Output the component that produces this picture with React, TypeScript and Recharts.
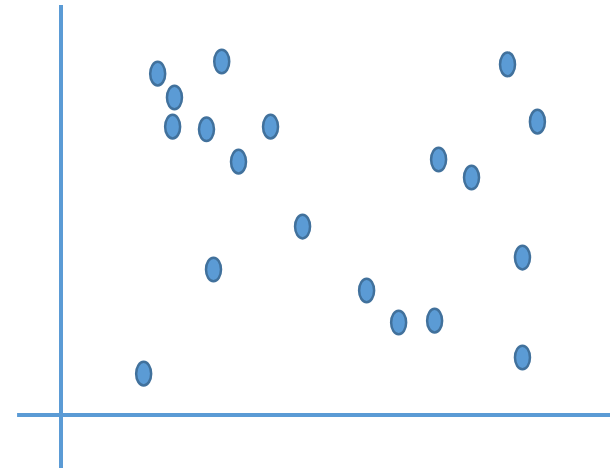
import React from 'react';
import { ScatterChart, Scatter, XAxis, YAxis, ReferenceLine } from 'recharts';

// values (axes cross at 0,0)
const xValues = [3.17, 5.27, 3.72, 3.66, 4.77, 6.87, 5.82, 7.92, 5.0, 2.71, 10.02, 11.07, 12.25, 12.38, 13.46, 14.64, 15.62, 15.13, 15.13];
const yValues = [12.88, 13.34, 11.98, 10.88, 10.78, 10.88, 9.56, 7.11, 5.49, 1.56, 4.7, 3.49, 3.56, 9.64, 8.96, 13.23, 11.07, 5.94, 2.17];

const points = xValues.map((x, i) => ({ x, y: yValues[i] }));

const Ellipse = (props: any) => {
  const { cx, cy } = props;
  return <ellipse cx={cx} cy={cy} rx={7.5} ry={11.8} fill="#5b9bd5" stroke="#41719c" strokeWidth={2.5} />;
};

const App: React.FC = () => {
  return (
    <div style={{ position: 'absolute', left: 0, top: 0 }}>
      <ScatterChart width={610} height={468} margin={{ top: 0, right: 0, bottom: 0, left: 0 }}>
        <XAxis type="number" dataKey="x" domain={[-2, 18]} hide />
        <YAxis type="number" dataKey="y" domain={[-2, 15.66]} hide />
        <ReferenceLine
          segment={[{ x: 0, y: -2 }, { x: 0, y: 15.47 }]}
          stroke="#5b9bd5"
          strokeWidth={4}
        />
        <ReferenceLine
          segment={[{ x: -1.44, y: 0 }, { x: 18, y: 0 }]}
          stroke="#5b9bd5"
          strokeWidth={4}
        />
        <Scatter data={points} shape={<Ellipse />} isAnimationActive={false} />
      </ScatterChart>
    </div>
  );
};

export default App;
